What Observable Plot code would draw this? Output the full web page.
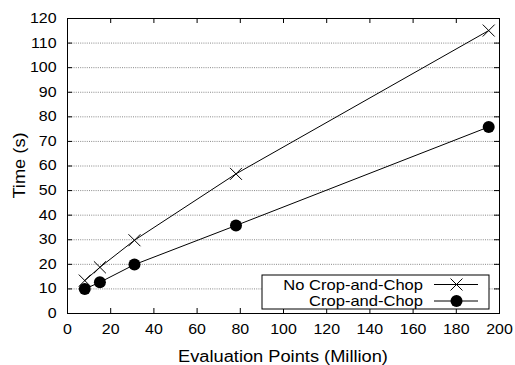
<!DOCTYPE html>
<html>
<head>
<meta charset="utf-8">
<script src="https://cdn.jsdelivr.net/npm/d3@7"></script>
<script src="https://cdn.jsdelivr.net/npm/@observablehq/plot@0.6"></script>
<style>
  html, body { margin: 0; padding: 0; background: #fff; }
  #chart svg { display: block; font-family: "Liberation Sans", Arial, sans-serif; }
</style>
</head>
<body>
<div id="chart"></div>
<script>
// ---- data ----
const evalPoints = [8, 15, 31, 78, 195];
const timeNoCropChop = [13.4, 18.8, 29.8, 56.8, 115.1];
const timeCropChop = [10.0, 12.7, 19.9, 35.8, 75.9];
const seriesNames = ["No Crop-and-Chop", "Crop-and-Chop"];
const xTicks = [0, 20, 40, 60, 80, 100, 120, 140, 160, 180, 200];
const yTicks = [0, 10, 20, 30, 40, 50, 60, 70, 80, 90, 100, 110, 120];
const xLabel = "Evaluation Points (Million)";
const yLabel = "Time (s)";

const rows = [];
evalPoints.forEach((x, i) => {
  rows.push({series: seriesNames[0], x, y: timeNoCropChop[i]});
  rows.push({series: seriesNames[1], x, y: timeCropChop[i]});
});
const noCC = rows.filter(d => d.series === seriesNames[0]);
const cc = rows.filter(d => d.series === seriesNames[1]);

const W = 515, H = 365;
const mL = 67, mR = 16, mT = 18, mB = 52;
const pw = W - mL - mR, ph = H - mT - mB;
const tk = 5;
const innerX = xTicks.slice(1, -1);
const innerY = yTicks.slice(1, -1);
const FONT = "Liberation Sans, Arial, sans-serif";

const plot = Plot.plot({
  width: W, height: H,
  marginLeft: mL, marginRight: mR, marginTop: mT, marginBottom: mB,
  style: {fontFamily: FONT, fontSize: "14px", color: "#000", background: "#fff"},
  x: {domain: [0, 200]},
  y: {domain: [0, 120]},
  marks: [
    Plot.gridY(innerY, {stroke: "#888", strokeOpacity: 1, strokeDasharray: "1,1.2"}),
    Plot.axisX(xTicks, {tickSize: 0, tickPadding: 11, fontSize: 14, label: null}),
    Plot.axisY(yTicks, {tickSize: 0, tickPadding: 11, fontSize: 14, label: null}),
    Plot.tickX(innerX, {x: d => d, stroke: "#000", insetTop: ph - tk}),
    Plot.tickX(innerX, {x: d => d, stroke: "#000", insetBottom: ph - tk}),
    Plot.tickY(innerY, {y: d => d, stroke: "#000", insetRight: pw - tk}),
    Plot.tickY(innerY, {y: d => d, stroke: "#000", insetLeft: pw - tk}),
    Plot.line(noCC, {x: "x", y: "y", stroke: "#000", strokeWidth: 1}),
    Plot.line(cc, {x: "x", y: "y", stroke: "#000", strokeWidth: 1}),
    Plot.dot(noCC, {x: "x", y: "y", symbol: "times", r: 5.5, stroke: "#000", strokeWidth: 1}),
    Plot.dot(cc, {x: "x", y: "y", r: 6, fill: "#000", stroke: "none"}),
    Plot.frame({stroke: "#000", strokeWidth: 1})
  ]
});

const svg = d3.select(plot);
// axis titles
svg.append("text")
  .attr("x", mL + pw / 2).attr("y", 361.5)
  .attr("text-anchor", "middle")
  .attr("font-size", 16).attr("fill", "#000")
  .text(xLabel);
svg.append("text")
  .attr("transform", `translate(25,${165.5}) rotate(-90)`)
  .attr("text-anchor", "middle")
  .attr("font-size", 16).attr("fill", "#000")
  .text(yLabel);

// legend
const lg = svg.append("g");
lg.append("rect").attr("x", 262).attr("y", 275).attr("width", 227).attr("height", 34)
  .attr("fill", "#fff").attr("stroke", "#000").attr("stroke-width", 1);
const rowY = [284.5, 301];
seriesNames.forEach((name, i) => {
  lg.append("text").attr("x", 423).attr("y", rowY[i] + 5)
    .attr("text-anchor", "end").attr("font-size", 14.5).attr("fill", "#000").text(name);
  lg.append("line").attr("x1", 434).attr("x2", 478).attr("y1", rowY[i]).attr("y2", rowY[i])
    .attr("stroke", "#000").attr("stroke-width", 1);
  const sym = i === 0
    ? d3.symbol(d3.symbolTimes, Math.PI * 5.5 * 5.5)()
    : d3.symbol(d3.symbolCircle, Math.PI * 6 * 6)();
  lg.append("path").attr("d", sym).attr("transform", `translate(456.5,${rowY[i]})`)
    .attr("fill", i === 0 ? "none" : "#000").attr("stroke", i === 0 ? "#000" : "none");
});

document.getElementById("chart").appendChild(plot);

// the reference's glyphs are about 14% wider than Arial: stretch each text
const STRETCH = 1.14;
svg.selectAll("text").each(function() {
  const len = this.getComputedTextLength();
  if (len > 0) {
    this.setAttribute("textLength", (len * STRETCH).toFixed(2));
    this.setAttribute("lengthAdjust", "spacingAndGlyphs");
  }
});
</script>
</body>
</html>
